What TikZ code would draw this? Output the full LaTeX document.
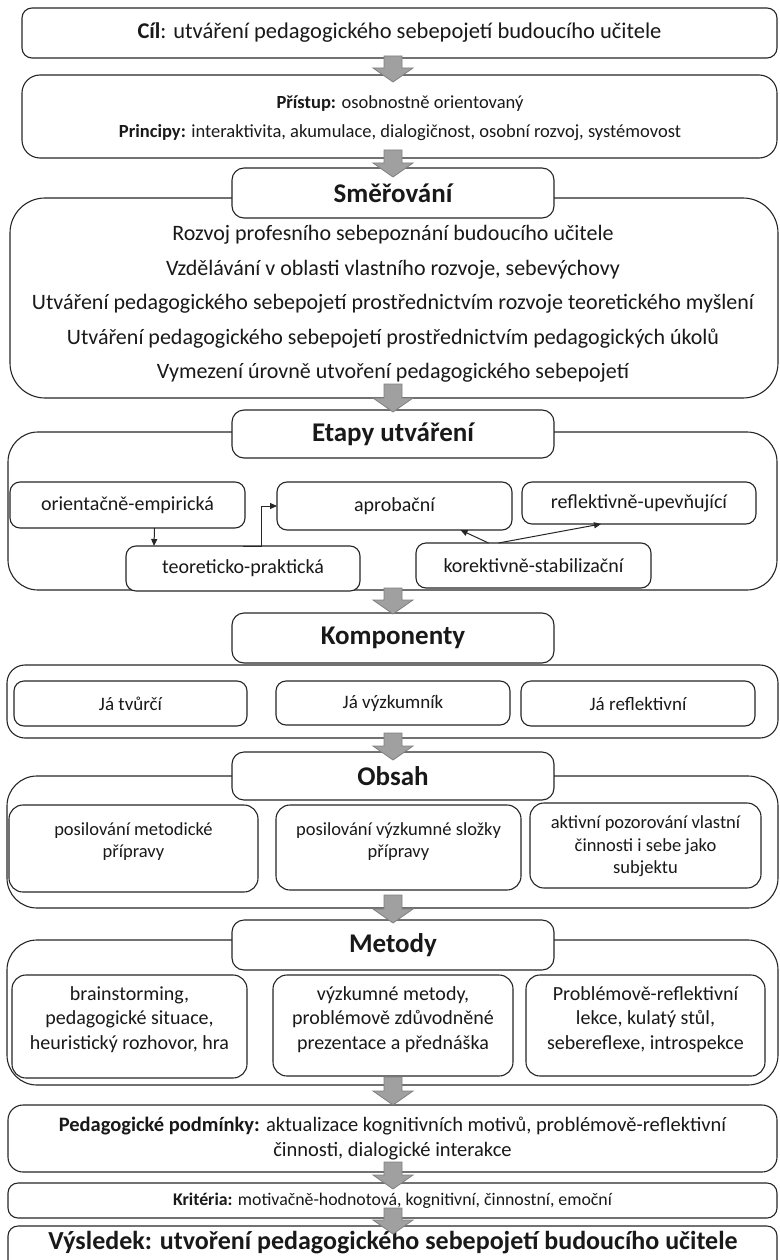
\documentclass[tikz,border=0pt]{standalone}
\usepackage{fontspec}
\setmainfont{Carlito}
\usetikzlibrary{arrows.meta}
\definecolor{edge}{HTML}{262626}
\definecolor{arrfill}{HTML}{A0A0A0}
\definecolor{arredge}{HTML}{808080}
\newcommand\fs[1]{\fontsize{#1}{\fpeval{1.22*#1}}\selectfont}
% rounded box given by its corners: style, name, x1, y1, x2, y2, text
\newcommand\rbox[7]{%
  \node[#1, minimum width={(#5)-(#3)}, minimum height={(#6)-(#4)}]
    (#2) at ({((#3)+(#5))/2},{((#4)+(#6))/2}) {#7};}
% wide grey block arrow between two levels
\newcommand\grayarrow[3]{%
  \coordinate (#1) at (393,#2);
  \filldraw[garrow] (#1) ++(-9,0) -- ++(18,0) -- (402,{#3-14}) -- (413,{#3-14})
    -- (393,#3) -- (373,{#3-14}) -- (384,{#3-14}) -- cycle;}
\tikzset{
  panel/.style={draw=edge, line width=1.1pt, fill=white, rounded corners=#1,
    inner sep=0pt, outer sep=0pt, align=center, text=black!90},
  panel/.default=10pt,
  titlebox/.style={panel=12pt, font=\fs{27}\bfseries},
  garrow/.style={fill=arrfill, draw=arredge, line width=0.8pt},
  conn/.style={draw=edge, line width=1pt, -{Triangle[length=7pt,width=6pt]}},
  txt/.style={inner sep=0pt, align=center, text=black!90},
}
\begin{document}
\begin{tikzpicture}[x=1pt,y=-1pt]
\useasboundingbox (0,0) rectangle (779,1260);

% goal
\rbox{panel, font=\fs{22.5}}{cil}{22}{8}{777}{58}{\textbf{Cíl}: utváření pedagogického sebepojetí budoucího učitele}

% approach and principles
\rbox{panel=18pt}{pristup}{22}{75}{777}{158}{}
\node[txt, font=\fs{18.5}] (pri) at (400,104) {\textbf{Přístup:} osobnostně orientovaný};
\node[txt, font=\fs{18.5}] (prin) at (400,133) {\textbf{Principy:} interaktivita, akumulace, dialogičnost, osobní rozvoj, systémovost};

% directions
\rbox{panel=35pt}{smerbox}{10}{198}{778}{398}{}
\rbox{titlebox}{smer}{232}{168}{554}{218}{Směřování}
\node[txt, font=\fs{22}] (s1) at (393,235) {Rozvoj profesního sebepoznání budoucího učitele};
\node[txt, font=\fs{22}] (s2) at (393,270) {Vzdělávání v oblasti vlastního rozvoje, sebevýchovy};
\node[txt, font=\fs{22}] (s3) at (393,304) {Utváření pedagogického sebepojetí prostřednictvím rozvoje teoretického myšlení};
\node[txt, font=\fs{22}] (s4) at (393,339) {Utváření pedagogického sebepojetí prostřednictvím pedagogických úkolů};
\node[txt, font=\fs{22}] (s5) at (393,373) {Vymezení úrovně utvoření pedagogického sebepojetí};

% stages
\rbox{panel=30pt}{etbox}{8}{432}{777}{590}{}
\rbox{titlebox}{etapy}{232}{410}{554}{458}{Etapy utváření}
\rbox{panel, font=\fs{20}}{orient}{10}{482}{245}{528}{orientačně-empirická}
\rbox{panel, font=\fs{20}}{apro}{277}{482}{512}{530}{aprobační}
\rbox{panel, font=\fs{20}}{refl}{522}{482}{756}{524}{reflektivně-upevňující}
\rbox{panel, font=\fs{20}}{teo}{126}{546}{360}{591}{teoreticko-praktická}
\rbox{panel, font=\fs{20}}{kor}{416}{543}{651}{588}{korektivně-stabilizační}
\draw[conn] ([xshift=27pt]orient.south) -- ([xshift=-89pt]teo.north);
\draw[conn] (teo.north) -- ++(18,0) |- (apro.west);
\draw[conn] ([xshift=-45pt]kor.north) -- ([xshift=66pt]apro.south);
\draw[conn] ([xshift=-35pt]kor.north) -- ([xshift=-38pt]refl.south);

% components
\rbox{panel=18pt}{kompbox}{7}{665}{778}{738}{}
\rbox{titlebox}{komp}{232}{613}{554}{663}{Komponenty}
\rbox{panel, font=\fs{19}}{k1}{14}{681}{247}{726}{Já tvůrčí}
\rbox{panel, font=\fs{19}}{k2}{276}{681}{510}{725}{Já výzkumník}
\rbox{panel, font=\fs{19}}{k3}{521}{681}{755}{726}{Já reflektivní}

% content
\rbox{panel=30pt}{obsbox}{7}{776}{778}{908}{}
\rbox{titlebox}{obsah}{232}{752}{554}{800}{Obsah}
\rbox{panel=14pt}{o1}{9}{805}{258}{892}{}
\rbox{panel=14pt}{o2}{276}{805}{521}{890}{}
\rbox{panel=14pt}{o3}{530}{803}{761}{888}{}
\node[txt, font=\fs{18.5}] (o1t) at ([yshift=7pt]o1.center) {posilování metodické\\ přípravy};
\node[txt, font=\fs{18.5}] (o2t) at ([yshift=6pt]o2.center) {posilování výzkumné složky\\ přípravy};
\node[txt, font=\fs{18.5}] (o3t) at ([yshift=-1pt]o3.center) {aktivní pozorování vlastní\\ činnosti i sebe jako\\ subjektu};

% methods
\rbox{panel=30pt}{metbox}{7}{940}{778}{1085}{}
\rbox{titlebox}{metody}{232}{920}{554}{970}{Metody}
\rbox{panel=14pt}{m1}{12}{975}{247}{1078}{}
\rbox{panel=14pt}{m2}{273}{975}{513}{1076}{}
\rbox{panel=14pt}{m3}{526}{975}{765}{1076}{}
\node[txt, font=\fs{20}] (m1t) at ([yshift=7pt]m1.center) {brainstorming,\\ pedagogické situace,\\ heuristický rozhovor, hra};
\node[txt, font=\fs{20}] (m2t) at ([yshift=6pt]m2.center) {výzkumné metody,\\ problémově zdůvodněné\\ prezentace a přednáška};
\node[txt, font=\fs{20}] (m3t) at ([yshift=6pt]m3.center) {Problémově-reflektivní\\ lekce, kulatý stůl,\\ sebereflexe, introspekce};

% conditions, criteria, result
\rbox{panel=15pt, font=\fs{20.5}}{podm}{8}{1105}{777}{1172}{\textbf{Pedagogické podmínky:} aktualizace kognitivních motivů, problémově-reflektivní\\ činnosti, dialogické interakce}
\rbox{panel, font=\fs{17.8}}{krit}{8}{1183}{777}{1218}{\textbf{Kritéria:} motivačně-hodnotová, kognitivní, činnostní, emoční}
\rbox{panel}{vysl}{8}{1226}{777}{1280}{}
\node[txt, font=\fs{26}\bfseries] (vysltext) at (393,1243) {Výsledek: utvoření pedagogického sebepojetí budoucího učitele};

% block arrows between levels
\grayarrow{a1}{56}{82}
\grayarrow{a2}{150}{177}
\grayarrow{a3}{384}{412}
\grayarrow{a4}{588}{614}
\grayarrow{a5}{733}{760}
\grayarrow{a6}{895}{923}
\grayarrow{a7}{1077}{1105}
\grayarrow{a8}{1162}{1189}
\grayarrow{a9}{1208}{1234}
\end{tikzpicture}
\end{document}
